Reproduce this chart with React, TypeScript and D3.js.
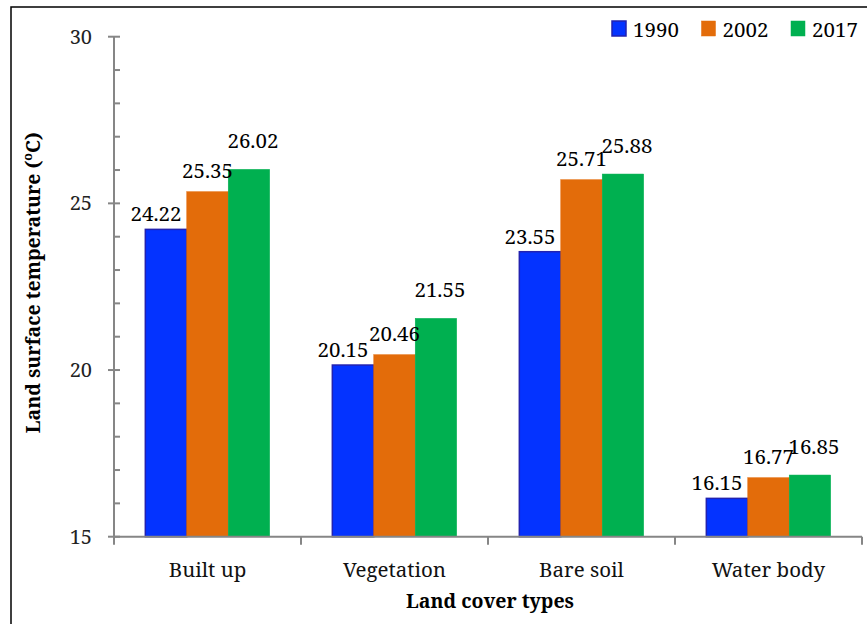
import * as d3 from 'd3'

const categories = ['Built up', 'Vegetation', 'Bare soil', 'Water body']
const years = ['1990', '2002', '2017']
const lst1990 = [24.22, 20.15, 23.55, 16.15]
const lst2002 = [25.35, 20.46, 25.71, 16.77]
const lst2017 = [26.02, 21.55, 25.88, 16.85]
const yTicks = [15, 20, 25, 30]

const seriesValues = [lst1990, lst2002, lst2017]
const colors = ['#0433ff', '#e36c0a', '#00b050']
const strokes = ['#2222b0', '#e36c0a', '#00b050']
// excel nudged the labels a bit, per series
const labelDx = [-10, 0, 4]
const labelDy = [8, 14, 21]

const FONT = 'Noto Serif'
const W = 867
const H = 624
const margin = { top: 36.7, right: 5, bottom: 87.3, left: 114 }

export default function App() {
  const innerW = 862 - margin.left
  const innerH = H - margin.top - margin.bottom

  const x = d3.scaleBand<string>().domain(categories).range([0, innerW]).paddingInner(0).paddingOuter(0)
  const groupPad = 0.335
  const x1 = d3
    .scaleBand<string>()
    .domain(years)
    .range([x.bandwidth() * groupPad / 2, x.bandwidth() * (1 - groupPad / 2)])
  const y = d3.scaleLinear().domain([15, 30]).range([innerH, 0])
  const minor = d3.range(15, 31, 1).filter((v) => !yTicks.includes(v))

  return (
    <div style={{ position: 'absolute', left: 0, top: 0 }}>
      <svg width={W} height={H} style={{ display: 'block' }}>
        <rect x={0} y={0} width={W} height={H} fill="#fff" />
        <rect x={11} y={7} width={900} height={700} fill="none" stroke="#000" strokeWidth={1.5} />
        <g transform={`translate(${margin.left},${margin.top})`}>
          {categories.map((c, ci) => (
            <g key={c} transform={`translate(${x(c)},0)`}>
              {years.map((yr, si) => {
                const v = seriesValues[si][ci]
                return (
                  <rect
                    key={yr}
                    x={x1(yr)}
                    y={y(v)}
                    width={x1.bandwidth()}
                    height={innerH - y(v)}
                    fill={colors[si]}
                    stroke={strokes[si]}
                    strokeWidth={si === 0 ? 1.5 : 0.5}
                  />
                )
              })}
            </g>
          ))}
          {/* y axis */}
          <line x1={0} x2={0} y1={0} y2={innerH} stroke="#868686" strokeWidth={2} />
          {yTicks.map((t) => (
            <g key={t} transform={`translate(0,${y(t)})`}>
              <line x1={-6} x2={6} stroke="#868686" strokeWidth={2} />
              <text x={-22} dy="0.35em" textAnchor="end" fontSize={20} fontFamily={FONT} fill="#222">
                {t}
              </text>
            </g>
          ))}
          {minor.map((t) => (
            <line key={t} x1={0} x2={6} y1={y(t)} y2={y(t)} stroke="#868686" strokeWidth={2} />
          ))}
          {/* x axis */}
          <line x1={0} x2={innerW} y1={innerH} y2={innerH} stroke="#868686" strokeWidth={2} />
          {d3.range(categories.length + 1).map((i) => (
            <line
              key={i}
              x1={i * x.bandwidth()}
              x2={i * x.bandwidth()}
              y1={innerH}
              y2={innerH + 8}
              stroke="#868686"
              strokeWidth={2}
            />
          ))}
          {categories.map((c) => (
            <text
              key={c}
              x={(x(c) ?? 0) + x.bandwidth() / 2}
              y={innerH + 40}
              textAnchor="middle"
              fontSize={20.5}
              fontFamily={FONT}
              fill="#111"
            >
              {c}
            </text>
          ))}
          {/* data labels */}
          {categories.map((c, ci) =>
            years.map((yr, si) => {
              const v = seriesValues[si][ci]
              return (
                <text
                  key={c + yr}
                  x={(x(c) ?? 0) + (x1(yr) ?? 0) + x1.bandwidth() / 2 + labelDx[si]}
                  y={y(v) - labelDy[si]}
                  textAnchor="middle"
                  fontSize={20.5}
                  fontFamily={FONT}
                  fill="#000"
                >
                  {v.toFixed(2)}
                </text>
              )
            })
          )}
        </g>
        <text x={490} y={608} textAnchor="middle" fontSize={19.5} fontWeight="bold" fontFamily={FONT} fill="#000">
          Land cover types
        </text>
        <text
          transform={`translate(40,${margin.top + innerH / 2 - 4}) rotate(-90)`}
          textAnchor="middle"
          fontSize={19.5}
          fontWeight="bold"
          fontFamily={FONT}
          fill="#000"
        >
          Land surface temperature (
          <tspan fontSize={12.5} dy={-8}>o</tspan>
          <tspan dy={8}>C)</tspan>
        </text>
        {/* legend */}
        {years.map((yr, i) => (
          <g key={yr} transform={`translate(${612 + i * 89.5},21)`}>
            <rect width={14} height={15} fill={colors[i]} stroke={strokes[i]} strokeWidth={i === 0 ? 1.5 : 0.5} />
            <text x={21} y={15.5} fontSize={20.5} fontFamily={FONT} fill="#000">
              {yr}
            </text>
          </g>
        ))}
      </svg>
    </div>
  )
}
